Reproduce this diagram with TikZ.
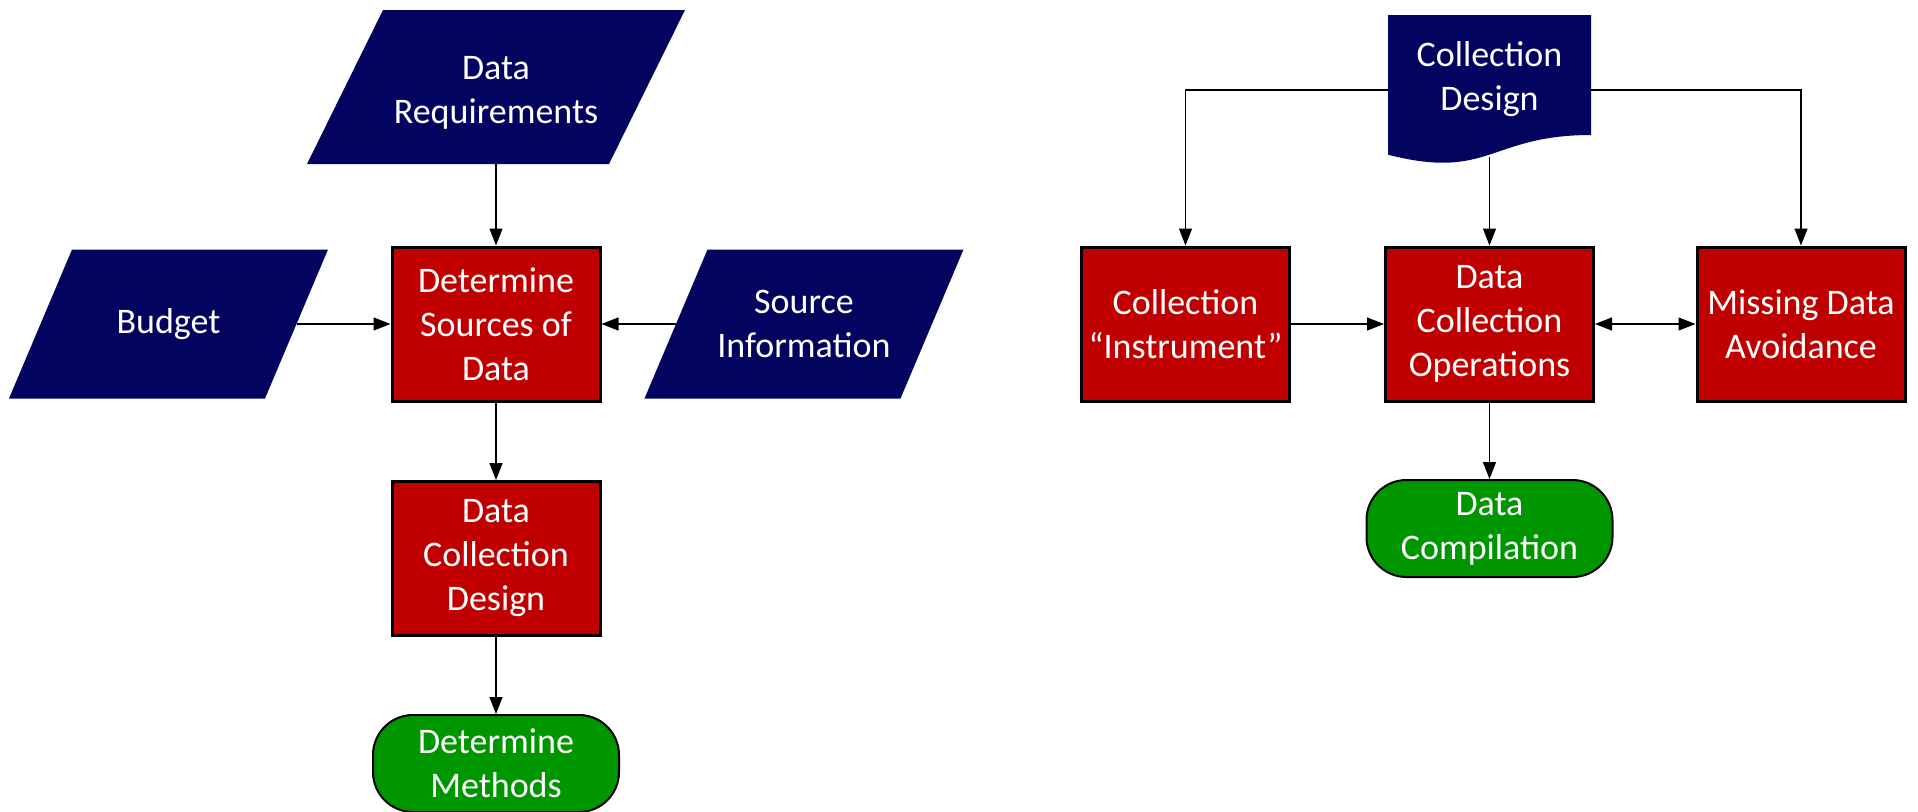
\documentclass[tikz,border=0pt]{standalone}
\usepackage{fontspec}
\setmainfont{Carlito}
\usetikzlibrary{arrows.meta}
\definecolor{navy}{RGB}{3,3,96}
\definecolor{darkred}{RGB}{192,0,0}
\definecolor{leaf}{RGB}{0,150,0}
\begin{document}
\begin{tikzpicture}[x=.5pt,y=-.5pt,
font=\fontsize{18pt}{22pt}\selectfont,
box/.style={draw=black, line width=1.5pt, fill=darkred, text=white, align=center, minimum width=104pt, minimum height=77pt, inner sep=2pt},
input/.style={text=white, align=center, inner sep=0pt, outer sep=0pt},
term/.style={draw=black, line width=1pt, fill=leaf, text=white, align=center, rounded corners=20pt, minimum width=123pt, minimum height=48.5pt},
>={Triangle[length=8.5pt,width=6.5pt]}]
\useasboundingbox (0,0) rectangle (1918,811);

\fill[navy] (307,164) -- (383,10) -- (685,10) -- (609,164) -- cycle
(496,93) node (0) [input, minimum width=151pt, minimum height=71pt] {Data\\Requirements};
\fill[navy] (9,398.5) -- (72,249.5) -- (328,249.5) -- (265,398.5) -- cycle
(168.5,324) node (1) [input, minimum width=128pt, minimum height=74.5pt] {Budget};
\fill[navy] (644.5,398.5) -- (707.5,249.5) -- (963.5,249.5) -- (900.5,398.5) -- cycle
(804,324) node (2) [input, minimum width=128pt, minimum height=74.5pt] {Source\\Information};
\node (3) at (496,324) [box] {Determine\\Sources of\\Data};
\node (4) at (496,558.5) [box] {Data\\Collection\\Design};
\node (5) at (496,763.5) [term] {Determine\\Methods};

\fill[navy] (1388,15) -- (1591,15) -- (1591,135) .. controls (1489.5,135) and (1489.5,180.7) .. (1388,154.7) -- cycle
(1489.5,79) node (6) [input, minimum width=101.5pt, minimum height=60pt] {Collection\\Design};
\coordinate (6b) at (1489.5,157);
\node (7) at (1185.5,324) [box] {Collection\\``Instrument''};
\node (8) at (1489.5,324) [box] {Data\\Collection\\Operations};
\node (9) at (1801,324) [box] {Missing Data\\Avoidance};
\node (10) at (1489.5,528.5) [term] {Data\\Compilation};

\path[semithick,->]
(0) edge (3)
(1) edge (3)
(2) edge (3)
(3) edge (4)
(4) edge (5)
(6b) edge (8)
(7) edge (8)
(8) edge (10);
\draw[semithick,<->] (8) to (9);
\draw[semithick,->] ([yshift=-5.5pt]6.west) -| (7);
\draw[semithick,->] ([yshift=-5.5pt]6.east) -| (9);
\end{tikzpicture}
\end{document}
